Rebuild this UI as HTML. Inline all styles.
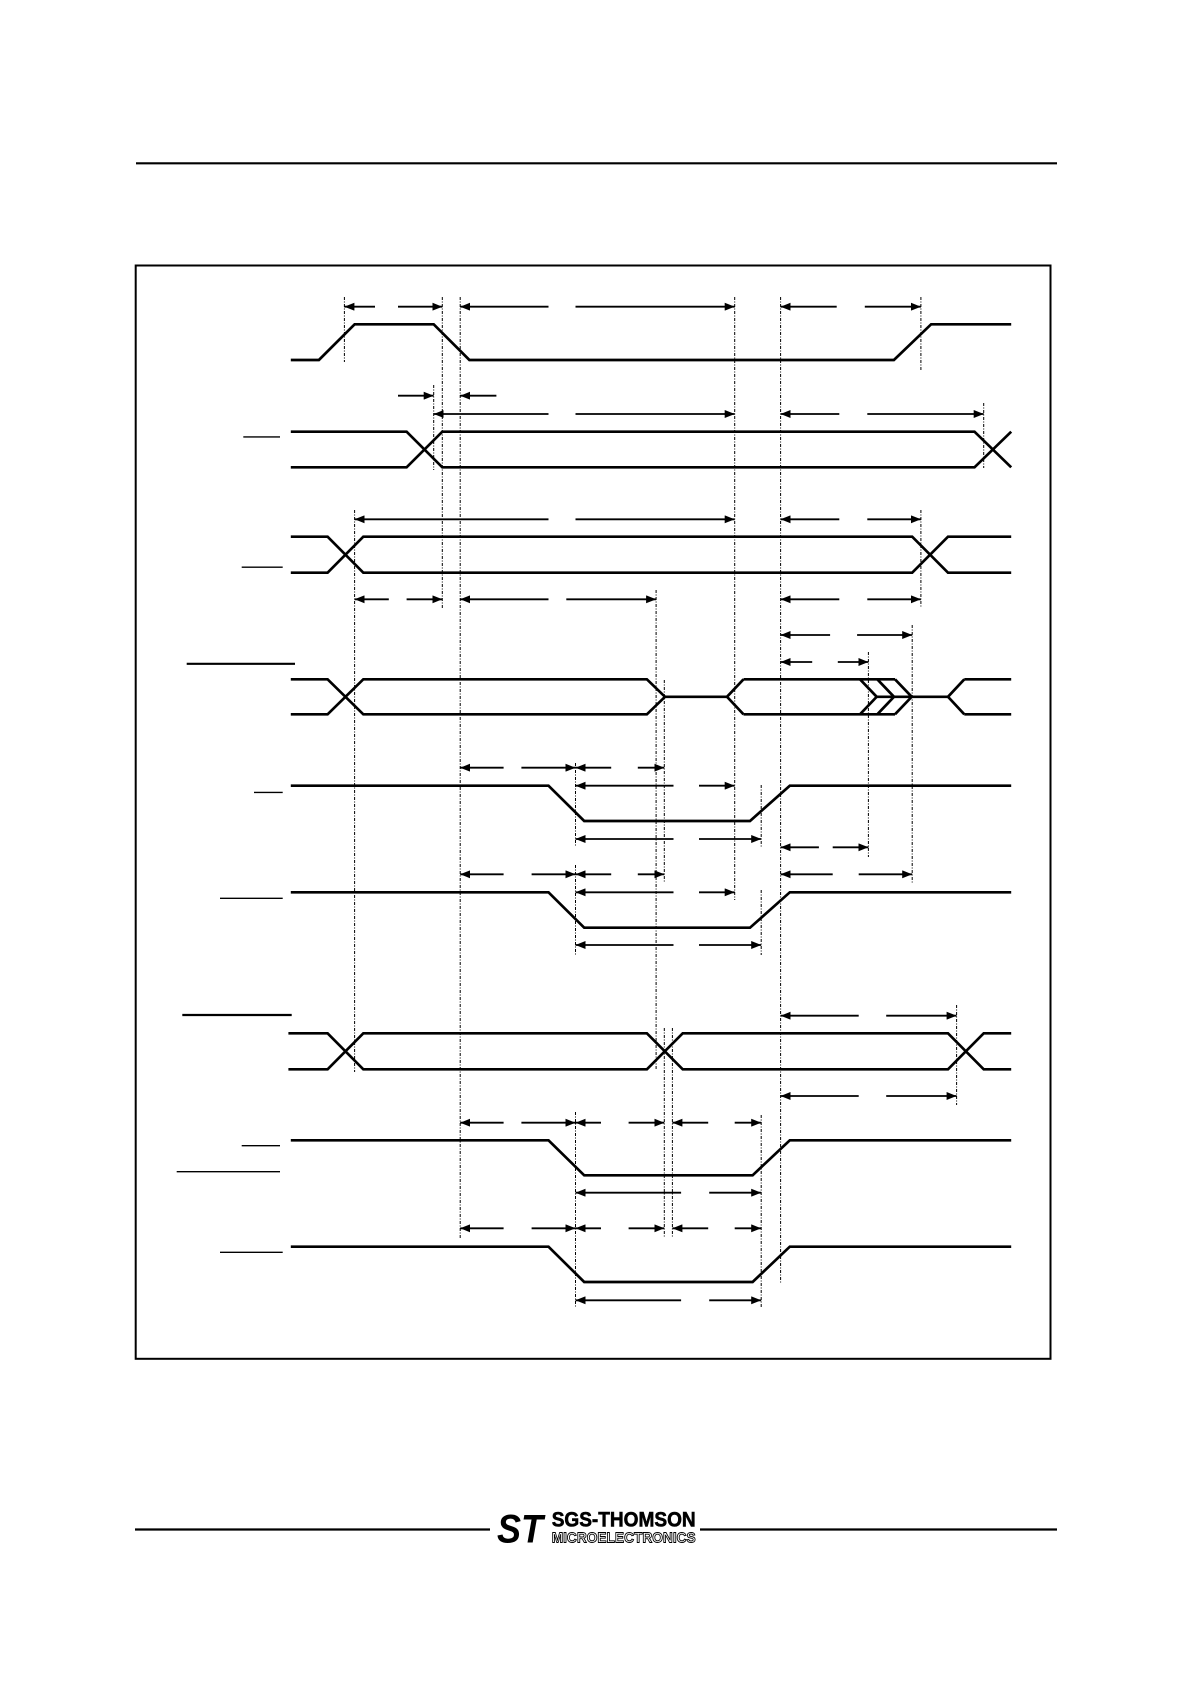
<!DOCTYPE html>
<html>
<head>
<meta charset="utf-8">
<style>
  html,body{margin:0;padding:0;background:#fff;}
  body{width:1190px;height:1684px;overflow:hidden;}
  svg{display:block;}
  .s{stroke:#000;stroke-width:2.7;fill:none;stroke-linejoin:miter;stroke-miterlimit:3;}
  .d{stroke:#000;stroke-width:1;stroke-dasharray:3 1.5 1 1.5;fill:none;}
  .ar{stroke:#000;stroke-width:1.8;fill:none;}
  .ol{stroke:#000;stroke-width:1.4;}
  .olb{stroke:#000;stroke-width:2.2;}
</style>
</head>
<body>
<svg width="1190" height="1684" viewBox="0 0 1190 1684" xmlns="http://www.w3.org/2000/svg">
  <defs>
    <marker id="h" viewBox="0 0 10 8" refX="10" refY="4" markerWidth="10" markerHeight="8" markerUnits="userSpaceOnUse" orient="auto-start-reverse">
      <path d="M0,0 L10,4 L0,8 z" fill="#000"/>
    </marker>
  </defs>

  <!-- top rule -->
  <line x1="136" y1="163.3" x2="1057" y2="163.3" stroke="#000" stroke-width="2.2"/>

  <!-- frame -->
  <rect x="135.7" y="265.5" width="914.8" height="1093.3" fill="none" stroke="#000" stroke-width="2"/>

  <!-- label overlines -->
  <line class="ol" x1="243.3" y1="436.9" x2="280" y2="436.9"/>
  <line class="ol" x1="241.7" y1="567.2" x2="282.7" y2="567.2"/>
  <line class="olb" x1="186.7" y1="663.8" x2="295" y2="663.8"/>
  <line class="ol" x1="254" y1="792.4" x2="282.7" y2="792.4"/>
  <line class="ol" x1="220" y1="898.3" x2="282.7" y2="898.3"/>
  <line class="olb" x1="182.3" y1="1015" x2="291.7" y2="1015"/>
  <line class="ol" x1="241.7" y1="1145.7" x2="280" y2="1145.7"/>
  <line class="ol" x1="176.7" y1="1171.7" x2="280" y2="1171.7"/>
  <line class="ol" x1="220" y1="1252.3" x2="282.7" y2="1252.3"/>

  <!-- dashed verticals -->
  <line class="d" x1="344.4" y1="297" x2="344.4" y2="362"/>
  <line class="d" x1="442.3" y1="297" x2="442.3" y2="608"/>
  <line class="d" x1="460.2" y1="297" x2="460.2" y2="1238"/>
  <line class="d" x1="734.7" y1="297" x2="734.7" y2="900"/>
  <line class="d" x1="780.6" y1="297" x2="780.6" y2="1283"/>
  <line class="d" x1="920.9" y1="297" x2="920.9" y2="370"/>
  <line class="d" x1="920.9" y1="510" x2="920.9" y2="608"/>
  <line class="d" x1="433.7" y1="385" x2="433.7" y2="470"/>
  <line class="d" x1="983.7" y1="403" x2="983.7" y2="468"/>
  <line class="d" x1="354.6" y1="510" x2="354.6" y2="1072"/>
  <line class="d" x1="656.1" y1="590" x2="656.1" y2="1070"/>
  <line class="d" x1="664.3" y1="680" x2="664.3" y2="883"/>
  <line class="d" x1="664.3" y1="1028" x2="664.3" y2="1238"/>
  <line class="d" x1="672.4" y1="1028" x2="672.4" y2="1238"/>
  <line class="d" x1="575.5" y1="763" x2="575.5" y2="847"/>
  <line class="d" x1="575.5" y1="865" x2="575.5" y2="955"/>
  <line class="d" x1="575.5" y1="1112" x2="575.5" y2="1307"/>
  <line class="d" x1="761.2" y1="785" x2="761.2" y2="847"/>
  <line class="d" x1="761.2" y1="890" x2="761.2" y2="955"/>
  <line class="d" x1="761.2" y1="1115" x2="761.2" y2="1307"/>
  <line class="d" x1="868.4" y1="652" x2="868.4" y2="857"/>
  <line class="d" x1="912.2" y1="625" x2="912.2" y2="884"/>
  <line class="d" x1="956.6" y1="1005" x2="956.6" y2="1105"/>

  <!-- signals -->
  <path class="s" d="M290.8,360 H318.9 L354.6,324.3 H433.7 L469.4,360 H893.9 L931.1,324.3 H1011.2"/>

  <path class="s" d="M290.8,431.7 H406.6 L442.3,467.3 H974.5 L1011.2,431.7"/>
  <path class="s" d="M290.8,467.3 H406.6 L442.3,431.7 H974.5 L1011.2,467.3"/>

  <path class="s" d="M290.8,536.7 H327.6 L363.3,572.7 H912.2 L948,536.7 H1011.2"/>
  <path class="s" d="M290.8,572.7 H327.6 L363.3,536.7 H912.2 L948,572.7 H1011.2"/>

  <path class="s" d="M290.8,679.3 H327.6 L363.3,714.3 H646.9 L665,696.8"/>
  <path class="s" d="M290.8,714.3 H327.6 L363.3,679.3 H646.9 L665,696.8"/>
  <path class="s" d="M665,696.8 H727"/>
  <path class="s" d="M743.5,679.3 L727,696.8 L743.5,714.3"/>
  <path class="s" d="M743.5,679.3 H895"/>
  <path class="s" d="M743.5,714.3 H895"/>
  <path class="s" d="M860,679.3 L876.7,696.8 L860,714.3"/>
  <path class="s" d="M877.3,679.3 L894,696.8 L877.3,714.3"/>
  <path class="s" d="M895,679.3 L911.7,696.8 L895,714.3"/>
  <path class="s" d="M876.7,696.8 H948"/>
  <path class="s" d="M964.3,679.3 L948,696.8 L964.3,714.3"/>
  <path class="s" d="M964.3,679.3 H1011.2"/>
  <path class="s" d="M964.3,714.3 H1011.2"/>

  <path class="s" d="M290.8,785.7 H548.5 L584.2,821 H750 L789.8,785.7 H1011.2"/>
  <path class="s" d="M290.8,892.3 H548.5 L584.2,927.7 H750 L789.8,892.3 H1011.2"/>

  <path class="s" d="M288.4,1033.3 H327.6 L363.3,1069.3 H646.9 L682.7,1033.3 H948 L983.7,1069.3 H1011.2"/>
  <path class="s" d="M288.4,1069.3 H327.6 L363.3,1033.3 H646.9 L682.7,1069.3 H948 L983.7,1033.3 H1011.2"/>

  <path class="s" d="M290.8,1140.3 H548.5 L584.2,1175.3 H752.6 L789.8,1140.3 H1011.2"/>
  <path class="s" d="M290.8,1246.7 H548.5 L584.2,1282 H752.6 L789.8,1246.7 H1011.2"/>

  <!-- dimension arrows -->
  <!-- row 1 -->
  <path class="ar" d="M344.4,306.7 H375" marker-start="url(#h)"/>
  <path class="ar" d="M398,306.7 H442.3" marker-end="url(#h)"/>
  <path class="ar" d="M460.2,306.7 H548.5" marker-start="url(#h)"/>
  <path class="ar" d="M575.5,306.7 H734.7" marker-end="url(#h)"/>
  <path class="ar" d="M780.6,306.7 H836.7" marker-start="url(#h)"/>
  <path class="ar" d="M864.8,306.7 H920.9" marker-end="url(#h)"/>

  <!-- row 2 -->
  <path class="ar" d="M398,395.7 H433.7" marker-end="url(#h)"/>
  <path class="ar" d="M496.4,395.7 H460.2" marker-end="url(#h)"/>
  <path class="ar" d="M433.7,414 H548.5" marker-start="url(#h)"/>
  <path class="ar" d="M575.5,414 H734.7" marker-end="url(#h)"/>
  <path class="ar" d="M780.6,414 H839.3" marker-start="url(#h)"/>
  <path class="ar" d="M867.3,414 H983.7" marker-end="url(#h)"/>

  <!-- row 3 -->
  <path class="ar" d="M354.6,519.3 H548.5" marker-start="url(#h)"/>
  <path class="ar" d="M575.5,519.3 H734.7" marker-end="url(#h)"/>
  <path class="ar" d="M780.6,519.3 H839.3" marker-start="url(#h)"/>
  <path class="ar" d="M867.3,519.3 H920.9" marker-end="url(#h)"/>

  <path class="ar" d="M354.6,599.3 H388.8" marker-start="url(#h)"/>
  <path class="ar" d="M406.6,599.3 H442.3" marker-end="url(#h)"/>
  <path class="ar" d="M460.2,599.3 H548.5" marker-start="url(#h)"/>
  <path class="ar" d="M566.3,599.3 H656.1" marker-end="url(#h)"/>
  <path class="ar" d="M780.6,599.3 H839.3" marker-start="url(#h)"/>
  <path class="ar" d="M867.3,599.3 H920.9" marker-end="url(#h)"/>

  <!-- row 4 -->
  <path class="ar" d="M780.6,635 H830.1" marker-start="url(#h)"/>
  <path class="ar" d="M857.1,635 H912.2" marker-end="url(#h)"/>
  <path class="ar" d="M780.6,662 H812.2" marker-start="url(#h)"/>
  <path class="ar" d="M837.8,662 H868.4" marker-end="url(#h)"/>

  <!-- row 5 -->
  <path class="ar" d="M460.2,767.7 H503.6" marker-start="url(#h)"/>
  <path class="ar" d="M521.4,767.7 H575.5" marker-end="url(#h)"/>
  <path class="ar" d="M575.5,767.7 H611.2" marker-start="url(#h)"/>
  <path class="ar" d="M637.8,767.7 H664.3" marker-end="url(#h)"/>
  <path class="ar" d="M575.5,785.7 H673.5" marker-start="url(#h)"/>
  <path class="ar" d="M699,785.7 H734.7" marker-end="url(#h)"/>
  <path class="ar" d="M575.5,839 H673.5" marker-start="url(#h)"/>
  <path class="ar" d="M699,839 H761.2" marker-end="url(#h)"/>
  <path class="ar" d="M780.6,847.3 H818.9" marker-start="url(#h)"/>
  <path class="ar" d="M832.7,847.3 H868.4" marker-end="url(#h)"/>

  <!-- row 6 -->
  <path class="ar" d="M460.2,874.3 H503.6" marker-start="url(#h)"/>
  <path class="ar" d="M531.6,874.3 H575.5" marker-end="url(#h)"/>
  <path class="ar" d="M575.5,874.3 H611.2" marker-start="url(#h)"/>
  <path class="ar" d="M637.8,874.3 H664.3" marker-end="url(#h)"/>
  <path class="ar" d="M780.6,874.3 H832.7" marker-start="url(#h)"/>
  <path class="ar" d="M858.7,874.3 H912.2" marker-end="url(#h)"/>
  <path class="ar" d="M575.5,892.3 H673.5" marker-start="url(#h)"/>
  <path class="ar" d="M699,892.3 H734.7" marker-end="url(#h)"/>
  <path class="ar" d="M575.5,945 H673.5" marker-start="url(#h)"/>
  <path class="ar" d="M699,945 H761.2" marker-end="url(#h)"/>

  <!-- row 7 -->
  <path class="ar" d="M780.6,1015.7 H858.7" marker-start="url(#h)"/>
  <path class="ar" d="M886.2,1015.7 H956.6" marker-end="url(#h)"/>
  <path class="ar" d="M780.6,1096 H858.7" marker-start="url(#h)"/>
  <path class="ar" d="M886.2,1096 H956.6" marker-end="url(#h)"/>

  <!-- row 8 -->
  <path class="ar" d="M460.2,1122.7 H503.6" marker-start="url(#h)"/>
  <path class="ar" d="M521.4,1122.7 H575.5" marker-end="url(#h)"/>
  <path class="ar" d="M575.5,1122.7 H601" marker-start="url(#h)"/>
  <path class="ar" d="M628.6,1122.7 H664.3" marker-end="url(#h)"/>
  <path class="ar" d="M672.4,1122.7 H708.2" marker-start="url(#h)"/>
  <path class="ar" d="M734.7,1122.7 H761.2" marker-end="url(#h)"/>
  <path class="ar" d="M575.5,1192.7 H681.1" marker-start="url(#h)"/>
  <path class="ar" d="M709.2,1192.7 H761.2" marker-end="url(#h)"/>

  <!-- row 9 -->
  <path class="ar" d="M460.2,1228.3 H503.6" marker-start="url(#h)"/>
  <path class="ar" d="M531.6,1228.3 H575.5" marker-end="url(#h)"/>
  <path class="ar" d="M575.5,1228.3 H601" marker-start="url(#h)"/>
  <path class="ar" d="M628.6,1228.3 H664.3" marker-end="url(#h)"/>
  <path class="ar" d="M672.4,1228.3 H708.2" marker-start="url(#h)"/>
  <path class="ar" d="M734.7,1228.3 H761.2" marker-end="url(#h)"/>
  <path class="ar" d="M575.5,1300.3 H681.1" marker-start="url(#h)"/>
  <path class="ar" d="M709.2,1300.3 H761.2" marker-end="url(#h)"/>

  <!-- bottom rule with logo -->
  <line x1="135" y1="1529.5" x2="490" y2="1529.5" stroke="#000" stroke-width="2.3"/>
  <line x1="700" y1="1529.5" x2="1057" y2="1529.5" stroke="#000" stroke-width="2.3"/>
  <text x="497" y="1542.3" font-family="'Liberation Sans', sans-serif" font-weight="bold" font-style="italic" font-size="40" textLength="46" lengthAdjust="spacingAndGlyphs" fill="#000">ST</text>
  <text x="551.7" y="1526.7" font-family="'Liberation Sans Narrow', 'Liberation Sans', sans-serif" font-weight="bold" font-size="20.8" textLength="144" lengthAdjust="spacingAndGlyphs" fill="#000" stroke="#000" stroke-width="0.6">SGS-THOMSON</text>
  <text x="551.7" y="1542.3" font-family="'Liberation Sans Narrow', 'Liberation Sans', sans-serif" font-weight="bold" font-size="14.7" textLength="144" lengthAdjust="spacingAndGlyphs" fill="#fff" stroke="#000" stroke-width="0.9">MICROELECTRONICS</text>
</svg>
</body>
</html>
